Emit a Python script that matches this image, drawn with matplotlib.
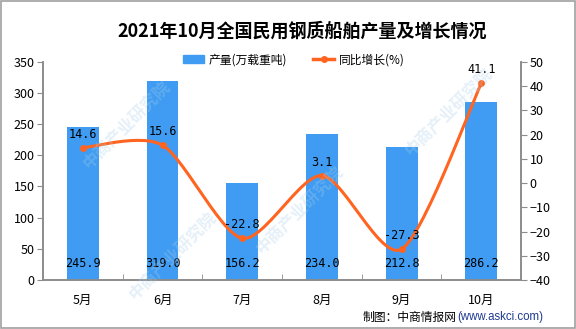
import numpy as np
import matplotlib
matplotlib.use("Agg")
import matplotlib.pyplot as plt
from matplotlib.lines import Line2D
from matplotlib.patches import Patch, Rectangle

plt.rcParams['font.family'] = ['Noto Sans CJK SC', 'DejaVu Sans']

months = ["5月", "6月", "7月", "8月", "9月", "10月"]
output = [245.9, 319.0, 156.2, 234.0, 212.8, 286.2]      # 万载重吨
growth = [14.6, 15.6, -22.8, 3.1, -27.3, 41.1]           # %

bar_color = "#3F9CF2"
line_color = "#FF6420"
axis_color = "#8C8C8C"


def smooth(xs, ys, steps=30, tension=0.8):
    # Cardinal curve through the points (smoothed line look)
    px = np.concatenate([[xs[0]], xs, [xs[-1]]])
    py = np.concatenate([[ys[0]], ys, [ys[-1]]])
    ox, oy = [], []
    t = np.linspace(0, 1, steps)
    h00 = 2 * t**3 - 3 * t**2 + 1
    h10 = t**3 - 2 * t**2 + t
    h01 = -2 * t**3 + 3 * t**2
    h11 = t**3 - t**2
    for i in range(1, len(px) - 2):
        for p, out in ((px, ox), (py, oy)):
            m1 = tension * 0.5 * (p[i + 1] - p[i - 1])
            m2 = tension * 0.5 * (p[i + 2] - p[i])
            out.extend(h00 * p[i] + h10 * m1 + h01 * p[i + 1] + h11 * m2)
    return np.array(ox), np.array(oy)


fig = plt.figure(figsize=(5.76, 3.29), dpi=100)
ax = fig.add_axes([0.0747, 0.149, 0.83, 0.663])
ax2 = ax.twinx()

x = np.arange(len(months))
ax.bar(x, output, width=0.4, color=bar_color, zorder=2)
ax.set_xlim(-0.5, len(months) - 0.5)
ax.set_ylim(0, 350)
ax.set_yticks(range(0, 351, 50))

ax2.set_ylim(-40, 50)
ax2.set_yticks(range(-40, 51, 10))
sx, sy = smooth(x.astype(float), np.array(growth, dtype=float))
ax2.plot(sx, sy, color=line_color, lw=2.2, zorder=3)
ax2.plot(x, growth, "o", color=line_color, ms=4, zorder=4)

for xi, v in zip(x, output):
    ax.annotate(f"{v:.1f}", (xi, 0), xytext=(0, 7), textcoords="offset points",
                ha="center", va="bottom", fontsize=8.5, family="DejaVu Sans Mono")
for xi, g in zip(x, growth):
    ax2.annotate(f"{g:.1f}", (xi, g), xytext=(0, 5), textcoords="offset points",
                 ha="center", va="bottom", fontsize=8.5, family="DejaVu Sans Mono",
                 zorder=5)

ax.set_xticks(x)
ax.set_xticklabels(months)
ax.set_xticks(np.arange(-0.5, len(months), 1), minor=True)
ax.tick_params(axis="x", which="major", length=0, pad=10, labelsize=9)
ax.tick_params(axis="x", which="minor", length=4, color=axis_color, direction="in")
ax.tick_params(axis="y", length=4, color=axis_color, labelsize=9, pad=2)
ax2.tick_params(axis="y", length=4, color=axis_color, labelsize=9, pad=2)

for a in (ax, ax2):
    a.spines["top"].set_visible(False)
    for s in ("left", "right", "bottom"):
        a.spines[s].set_color(axis_color)
        a.spines[s].set_linewidth(1.2)

# faint watermark over the plot
for wx, wy in ((0.22, 0.62), (0.52, 0.36), (0.78, 0.66), (0.30, 0.22)):
    fig.text(wx, wy, "中商产业研究院", rotation=45, fontsize=12,
             color="#A9CDEA", alpha=0.3, ha="center", va="center",
             fontweight="bold", zorder=10)

fig.text(0.524, 0.905, "2021年10月全国民用钢质船舶产量及增长情况",
         ha="center", va="center", fontsize=13, fontweight="bold")

handles = [Patch(color=bar_color),
           Line2D([0], [0], color=line_color, lw=2.5, marker="o", ms=4)]
fig.legend(handles, ["产量(万载重吨)", "同比增长(%)"], loc="center",
           bbox_to_anchor=(0.51, 0.818), ncol=2, frameon=False, fontsize=8.5,
           handlelength=1.8, handletextpad=0.4, columnspacing=2.2)

fig.text(0.793, 0.036, "制图：中商情报网", ha="right", va="center", fontsize=8.5)
fig.text(0.793, 0.036, "(www.askci.com)", ha="left", va="center", fontsize=8.3,
         family="Liberation Sans", color="#1F3A93")

fig.patches.append(Rectangle((0.002, 0.003), 0.996, 0.994, transform=fig.transFigure,
                             fill=False, edgecolor="#A0A0A0", lw=1.2))

fig.savefig("out.png", dpi=100)
